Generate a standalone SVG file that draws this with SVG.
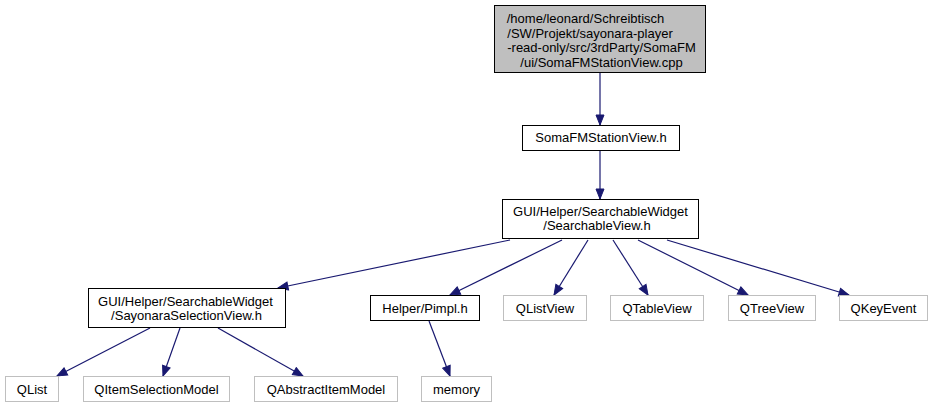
<svg xmlns="http://www.w3.org/2000/svg" width="934" height="409" viewBox="0 0 934 409">
<style>
text{font-family:"Liberation Sans",Arial,sans-serif;font-size:13px;fill:#000;text-anchor:middle}
.n{fill:#fff;stroke:#000;stroke-width:1}
.g{fill:#fff;stroke:#bfbfbf;stroke-width:1}
.r{fill:#bfbfbf;stroke:#000;stroke-width:1}
.e{fill:none;stroke:#191970;stroke-width:1.2;marker-end:url(#a)}
</style>
<defs>
<marker id="a" markerUnits="userSpaceOnUse" markerWidth="12" markerHeight="10" refX="11" refY="5" orient="auto">
<path d="M1,1 L11,5 L1,9 Z" fill="#191970" stroke="#191970"/>
</marker>
</defs>
<rect width="934" height="409" fill="#fff"/>
<g id="edges">
<path class="e" d="M600,73 L600,125"/>
<path class="e" d="M600,151 L600,199"/>
<path class="e" d="M510,240 L278,288"/>
<path class="e" d="M562,240 L450,295"/>
<path class="e" d="M588,240 L554,295"/>
<path class="e" d="M613,240 L648,295"/>
<path class="e" d="M638,240 L748,295"/>
<path class="e" d="M667,240 L849,295"/>
<path class="e" d="M150,328 L57,376"/>
<path class="e" d="M180,328 L163,376"/>
<path class="e" d="M218,328 L303,376"/>
<path class="e" d="M429,321 L450,376"/>
</g>
<g id="n_cpp">
<rect class="r" x="494.5" y="5.5" width="211" height="67"/>
<text x="585.5" y="23">/home/leonard/Schreibtisch</text>
<text x="590" y="37.5">/SW/Projekt/sayonara-player</text>
<text x="601.5" y="52">-read-only/src/3rdParty/SomaFM</text>
<text x="601.5" y="66.5">/ui/SomaFMStationView.cpp</text>
</g>
<g id="n_soma">
<rect class="n" x="522.5" y="125.5" width="157" height="25"/>
<text x="601" y="142">SomaFMStationView.h</text>
</g>
<g id="n_searchable">
<rect class="n" x="502.5" y="199.5" width="196" height="39"/>
<text x="600.5" y="215.5">GUI/Helper/SearchableWidget</text>
<text x="597" y="230">/SearchableView.h</text>
</g>
<g id="n_sayonara">
<rect class="n" x="88.5" y="288.5" width="197" height="39"/>
<text x="185.5" y="306">GUI/Helper/SearchableWidget</text>
<text x="186.5" y="320">/SayonaraSelectionView.h</text>
</g>
<g id="n_pimpl">
<rect class="n" x="370.5" y="295.5" width="109" height="25"/>
<text x="425" y="312.5">Helper/Pimpl.h</text>
</g>
<g id="n_qlistview">
<rect class="g" x="503.5" y="295.5" width="83" height="25"/>
<text x="545" y="312.5">QListView</text>
</g>
<g id="n_qtableview">
<rect class="g" x="610.5" y="295.5" width="93" height="25"/>
<text x="657" y="312.5">QTableView</text>
</g>
<g id="n_qtreeview">
<rect class="g" x="728.5" y="295.5" width="87" height="25"/>
<text x="772" y="312.5">QTreeView</text>
</g>
<g id="n_qkeyevent">
<rect class="g" x="839.5" y="295.5" width="88" height="25"/>
<text x="883.5" y="312.5">QKeyEvent</text>
</g>
<g id="n_qlist">
<rect class="g" x="5.5" y="376.5" width="53" height="25"/>
<text x="32" y="393.5">QList</text>
</g>
<g id="n_qitemsel">
<rect class="g" x="83.5" y="376.5" width="146" height="25"/>
<text x="156.5" y="393.5">QItemSelectionModel</text>
</g>
<g id="n_qabstract">
<rect class="g" x="254.5" y="376.5" width="143" height="25"/>
<text x="326" y="393.5">QAbstractItemModel</text>
</g>
<g id="n_memory">
<rect class="g" x="421.5" y="376.5" width="70" height="25"/>
<text x="456.5" y="393.5">memory</text>
</g>
</svg>
